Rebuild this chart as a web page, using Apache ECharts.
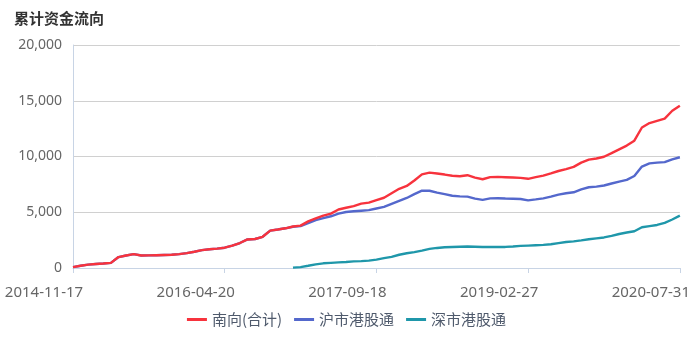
<!DOCTYPE html>
<html>
<head>
<meta charset="utf-8">
<script src="https://cdn.jsdelivr.net/npm/echarts@6/dist/echarts.min.js"></script>
<style>
  html, body { margin: 0; padding: 0; background: #ffffff; }
  #chart { width: 693px; height: 337px; }
</style>
</head>
<body>
<div id="chart"></div>
<script>
// Trading dates sampled along the period (labels shown every 20th entry)
const dates = [
  '2014-11-17','2014-12-12','2015-01-08','2015-02-03','2015-03-02','2015-03-27','2015-04-22','2015-05-18','2015-06-12','2015-07-09',
  '2015-08-04','2015-08-31','2015-09-25','2015-10-21','2015-11-16','2015-12-11','2016-01-07','2016-02-02','2016-02-29','2016-03-25',
  '2016-04-20','2016-05-16','2016-06-10','2016-07-06','2016-08-01','2016-08-26','2016-09-21','2016-10-17','2016-11-11','2016-12-07',
  '2017-01-03','2017-01-27','2017-02-22','2017-03-20','2017-04-14','2017-05-10','2017-06-05','2017-06-30','2017-07-26','2017-08-21',
  '2017-09-18','2017-10-13','2017-11-09','2017-12-06','2018-01-02','2018-01-29','2018-02-23','2018-03-21','2018-04-16','2018-05-14',
  '2018-06-08','2018-07-05','2018-07-31','2018-08-27','2018-09-21','2018-10-18','2018-11-13','2018-12-10','2019-01-04','2019-01-31',
  '2019-02-27','2019-03-25','2019-04-22','2019-05-16','2019-06-11','2019-07-08','2019-08-02','2019-08-28','2019-09-23','2019-10-18',
  '2019-11-14','2019-12-10','2020-01-06','2020-01-31','2020-02-26','2020-03-23','2020-04-17','2020-05-14','2020-06-09','2020-07-06',
  '2020-07-31'
];

// 南向(合计): cumulative southbound flow
const southTotal = [
  80, 200, 300, 360, 400, 460, 980, 1120, 1240, 1120,
  1130, 1150, 1170, 1190, 1240, 1330, 1460, 1600, 1680, 1740,
  1820, 2000, 2240, 2560, 2600, 2800, 3350, 3450, 3560, 3720,
  3800, 4180, 4450, 4700, 4880, 5250, 5400, 5550, 5770, 5860,
  6080, 6300, 6700, 7100, 7360, 7850, 8400, 8550, 8470, 8380,
  8270, 8230, 8320, 8100, 7960, 8150, 8170, 8140, 8110, 8080,
  8000, 8150, 8280, 8480, 8700, 8870, 9070, 9450, 9720, 9820,
  9980, 10300, 10640, 10980, 11420, 12600, 13000, 13200, 13400, 14100,
  14550
];

// 沪市港股通: Shanghai connect southbound
const shanghaiConnect = [
  80, 200, 300, 360, 400, 460, 980, 1120, 1240, 1120,
  1130, 1150, 1170, 1190, 1240, 1330, 1460, 1600, 1680, 1740,
  1820, 2000, 2240, 2560, 2600, 2800, 3350, 3450, 3560, 3700,
  3760, 4020, 4300, 4470, 4640, 4880, 5020, 5090, 5140, 5190,
  5340, 5480, 5750, 6020, 6280, 6620, 6940, 6930, 6760, 6620,
  6480, 6420, 6400, 6220, 6110, 6240, 6260, 6230, 6210, 6190,
  6060, 6150, 6250, 6400, 6580, 6700, 6790, 7050, 7240, 7300,
  7400, 7580, 7750, 7900, 8250, 9100, 9380, 9450, 9500, 9750,
  9930
];

// 深市港股通: Shenzhen connect southbound (opened Dec 2016)
const shenzhenConnect = [
  null, null, null, null, null, null, null, null, null, null,
  null, null, null, null, null, null, null, null, null, null,
  null, null, null, null, null, null, null, null, null, 30,
  80, 200, 330, 420, 460, 500, 540, 590, 620, 660,
  750, 880, 1000, 1190, 1320, 1420, 1560, 1720, 1800, 1860,
  1890, 1910, 1930, 1910, 1880, 1880, 1880, 1890, 1930, 1980,
  2010, 2040, 2070, 2130, 2230, 2330, 2390, 2480, 2580, 2660,
  2740, 2880, 3050, 3180, 3300, 3660, 3760, 3860, 4050, 4350,
  4700
];

const seriesNames = ['南向(合计)', '沪市港股通', '深市港股通'];
const yTicks = { min: 0, max: 20000, step: 5000 };

const chart = echarts.init(document.getElementById('chart'), null, { renderer: 'canvas' });
const fontFamily = "'Noto Sans', 'Noto Sans CJK SC', sans-serif";

chart.setOption({
  animation: false,
  backgroundColor: '#ffffff',
  title: {
    text: '累计资金流向',
    left: 9,
    top: 6,
    textStyle: { fontSize: 15, fontWeight: 'bold', color: '#333333', fontFamily: "'Noto Sans CJK SC', sans-serif" }
  },
  grid: { left: 73, right: 12.5, top: 45, bottom: 69, containLabel: false },
  legend: {
    bottom: 5,
    left: 'center',
    itemWidth: 20,
    itemHeight: 3,
    itemGap: 12,
    icon: 'rect',
    textStyle: { fontSize: 15, color: '#4f5a6c', fontFamily: "'Noto Sans CJK SC', sans-serif" },
    data: seriesNames
  },
  xAxis: {
    type: 'category',
    data: dates,
    boundaryGap: false,
    axisLine: { lineStyle: { color: '#c8d4e5', width: 1 } },
    axisTick: { show: true, interval: 19, length: 5, lineStyle: { color: '#c8d4e5' } },
    axisLabel: {
      interval: 19,
      color: '#666666',
      fontSize: 15,
      fontFamily: fontFamily,
      margin: 17,
      padding: [0, 58, 0, 0]
    },
    splitLine: { show: false }
  },
  yAxis: {
    type: 'value',
    min: yTicks.min,
    max: yTicks.max,
    interval: yTicks.step,
    axisLine: { show: true, lineStyle: { color: '#c8d4e5', width: 1 } },
    axisTick: { show: false },
    axisLabel: {
      color: '#666666',
      fontSize: 14,
      fontFamily: fontFamily,
      margin: 11,
      formatter: v => v.toLocaleString('en-US')
    },
    splitLine: { lineStyle: { color: '#d0d0d0', width: 1 } }
  },
  series: [
    {
      name: seriesNames[0], type: 'line', data: southTotal, symbol: 'none', z: 4,
      lineStyle: { color: '#f7333d', width: 2.4 }, itemStyle: { color: '#f7333d' }
    },
    {
      name: seriesNames[1], type: 'line', data: shanghaiConnect, symbol: 'none', z: 3,
      lineStyle: { color: '#5468cc', width: 2.4 }, itemStyle: { color: '#5468cc' }
    },
    {
      name: seriesNames[2], type: 'line', data: shenzhenConnect, symbol: 'none', z: 3,
      lineStyle: { color: '#1f97aa', width: 2.4 }, itemStyle: { color: '#1f97aa' }
    }
  ]
});
</script>
</body>
</html>
